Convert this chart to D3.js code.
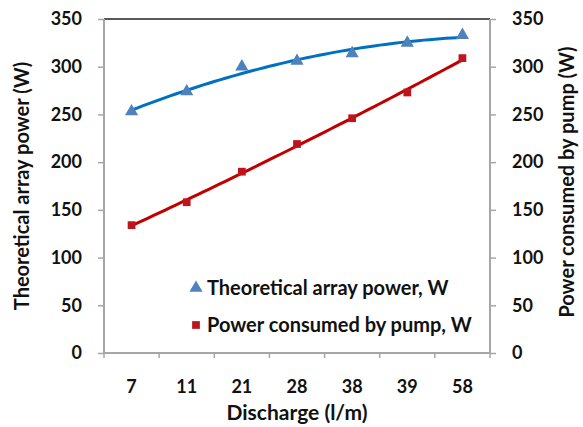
<!DOCTYPE html>
<html>
<head>
<meta charset="utf-8">
<script src="https://cdn.jsdelivr.net/npm/d3@7"></script>
<style>
  body { margin: 0; background: #fff; }
  text { font-family: Lato, "Open Sans", sans-serif; font-weight: bold; fill: #111; }
</style>
</head>
<body>
<div id="chart"></div>
<script>
// discharge categories (l/m)
var discharge = ["7", "11", "21", "28", "38", "39", "58"];
var arrayPower = [253, 274, 300, 306, 314, 325, 333];
var pumpPower = [134, 158, 190, 219, 246, 273, 309];
var yTicks = [0, 50, 100, 150, 200, 250, 300, 350];

var width = 583, height = 427;
var margin = { top: 19, right: 93, bottom: 74, left: 104 };

var svg = d3.select("#chart").append("svg")
    .attr("width", width)
    .attr("height", height);

var x = d3.scaleBand()
    .domain(discharge)
    .range([margin.left, width - margin.right]);

var y = d3.scaleLinear()
    .domain([0, 350])
    .range([height - margin.bottom, margin.top]);

// quadratic least squares trend, like a spreadsheet trendline
function polyFit(vals) {
    var s = [0, 0, 0, 0, 0], t = [0, 0, 0];
    vals.forEach(function (v, i) {
        var xi = i + 1;
        for (var k = 0; k < 5; k++) s[k] += Math.pow(xi, k);
        for (var k = 0; k < 3; k++) t[k] += v * Math.pow(xi, k);
    });
    var A = [[s[0], s[1], s[2], t[0]], [s[1], s[2], s[3], t[1]], [s[2], s[3], s[4], t[2]]];
    for (var i = 0; i < 3; i++) {
        for (var j = i + 1; j < 3; j++) {
            var f = A[j][i] / A[i][i];
            for (var k = i; k < 4; k++) A[j][k] -= f * A[i][k];
        }
    }
    var c = [0, 0, 0];
    for (var i = 2; i >= 0; i--) {
        var sum = A[i][3];
        for (var k = i + 1; k < 3; k++) sum -= A[i][k] * c[k];
        c[i] = sum / A[i][i];
    }
    return function (xi) { return c[0] + c[1] * xi + c[2] * xi * xi; };
}

function xPos(xi) {
    // xi is 1-based category position, may be fractional
    return x(discharge[0]) + x.bandwidth() / 2 + (xi - 1) * x.step();
}

function trendPoints(vals) {
    var f = polyFit(vals);
    return d3.range(1, vals.length + 0.001, 0.1).map(function (xi) { return [xPos(xi), y(f(xi))]; });
}

var axisColor = "#a6a6a6";

// top border
svg.append("line")
    .attr("x1", x.range()[0]).attr("x2", x.range()[1])
    .attr("y1", y(350)).attr("y2", y(350))
    .attr("stroke", "#222").attr("stroke-width", 1.5);

// left axis
var gl = svg.append("g")
    .attr("transform", "translate(" + margin.left + ",0)")
    .call(d3.axisLeft(y).tickValues(yTicks).tickSize(6).tickPadding(16));
// right axis
var gr = svg.append("g")
    .attr("transform", "translate(" + (width - margin.right) + ",0)")
    .call(d3.axisRight(y).tickValues(yTicks).tickSize(6).tickPadding(16));
// bottom axis, ticks on band boundaries
var gb = svg.append("g")
    .attr("transform", "translate(0," + y(0) + ")")
    .call(d3.axisBottom(x).tickSize(0).tickPadding(27));
gb.selectAll(".bnd").data(d3.range(discharge.length + 1)).enter().append("line")
    .attr("x1", function (i) { return x.range()[0] + i * x.step(); })
    .attr("x2", function (i) { return x.range()[0] + i * x.step(); })
    .attr("y1", 0).attr("y2", 5)
    .attr("stroke", axisColor).attr("stroke-width", 1.5);

[gl, gr, gb].forEach(function (g) {
    g.select(".domain").attr("stroke", axisColor).attr("stroke-width", 2);
    g.selectAll(".tick line").attr("stroke", axisColor).attr("stroke-width", 1.5);
    g.selectAll(".tick text").attr("font-size", 18).attr("fill", "#111")
        .style("font-family", "Lato, sans-serif").style("font-weight", "bold");
});
gl.select(".domain").attr("d", "M0," + y(0) + "V" + y(350));
gr.select(".domain").attr("d", "M0," + y(0) + "V" + y(350));
gb.select(".domain").attr("d", "M" + x.range()[0] + ",0H" + x.range()[1]);

var line = d3.line().curve(d3.curveLinear);

// trend lines
svg.append("path")
    .attr("d", line(trendPoints(arrayPower)))
    .attr("fill", "none").attr("stroke", "#0070c0").attr("stroke-width", 3);
svg.append("path")
    .attr("d", line(trendPoints(pumpPower)))
    .attr("fill", "none").attr("stroke", "#c00000").attr("stroke-width", 3);

// markers
var tri = d3.symbol().type(d3.symbolTriangle).size(75);
var sq = d3.symbol().type(d3.symbolSquare).size(60);

svg.append("g").selectAll("path")
    .data(arrayPower).enter().append("path")
    .attr("d", tri)
    .attr("transform", function (d, i) { return "translate(" + (x(discharge[i]) + x.bandwidth() / 2) + "," + y(d) + ")"; })
    .attr("fill", "#4f81bd");

svg.append("g").selectAll("path")
    .data(pumpPower).enter().append("path")
    .attr("d", sq)
    .attr("transform", function (d, i) { return "translate(" + (x(discharge[i]) + x.bandwidth() / 2) + "," + y(d) + ")"; })
    .attr("fill", "#c0141c");

// legend
var legend = svg.append("g").attr("transform", "translate(196,288)");
legend.append("path").attr("d", tri).attr("fill", "#4f81bd");
legend.append("text").attr("x", 11).attr("dy", "0.35em").attr("font-size", 20)
    .text("Theoretical array power, W");
legend.append("path").attr("d", sq).attr("fill", "#c0141c")
    .attr("transform", "translate(0,37)");
legend.append("text").attr("x", 11).attr("y", 37).attr("dy", "0.35em").attr("font-size", 20)
    .text("Power consumed by pump, W");

// axis titles
svg.append("text")
    .attr("transform", "translate(22,186)rotate(-90)")
    .attr("text-anchor", "middle").attr("dy", "0.35em").attr("font-size", 20)
    .text("Theoretical  array power (W)");
svg.append("text")
    .attr("transform", "translate(567,182)rotate(-90)")
    .attr("text-anchor", "middle").attr("dy", "0.35em").attr("font-size", 20)
    .text("Power  consumed by pump (W)");
svg.append("text")
    .attr("x", (x.range()[0] + x.range()[1]) / 2)
    .attr("y", 413)
    .attr("text-anchor", "middle").attr("dy", "0.35em").attr("font-size", 21)
    .text("Discharge (l/m)");
</script>
</body>
</html>
